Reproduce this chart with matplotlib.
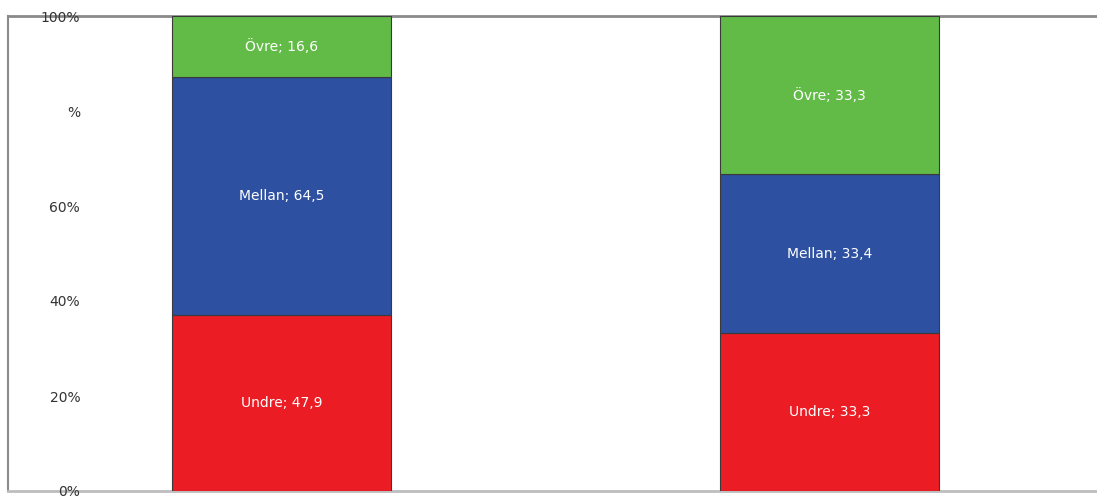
import matplotlib
matplotlib.use("Agg")
import matplotlib.pyplot as plt
import numpy as np

# Data
groups = ["A", "B"]
series = ["Undre", "Mellan", "Övre"]
undre = [47.9, 33.3]
mellan = [64.5, 33.4]
ovre = [16.6, 33.3]
colors = ["#EC1C24", "#2D50A0", "#62BB47"]
ytick_vals = [0, 20, 40, 60, 80, 100]
ytick_labels = ["0%", "20%", "40%", "60%", "%", "100%"]

W, H = 1097, 501
fig = plt.figure(figsize=(W / 100, H / 100), dpi=100)
ax = fig.add_axes([8 / W, 10 / H, (1103 - 8) / W, 475 / H])

values = np.array([undre, mellan, ovre])
totals = values.sum(axis=0)
shares = values / totals * 100

x = np.arange(len(groups))
bottom = np.zeros(len(groups))
for name, vals, sh, col in zip(series, values, shares, colors):
    ax.bar(x, sh, bottom=bottom, width=0.4, color=col,
           edgecolor="#3a3a3a", linewidth=0.8, zorder=2)
    for xi, v, s, b in zip(x, vals, sh, bottom):
        ax.text(xi, b + s / 2, f"{name}; {v:.1f}".replace(".", ","),
                ha="center", va="center", color="white", fontsize=10,
                family="DejaVu Sans", zorder=3)
    bottom += sh

ax.set_xlim(-0.5, 1.5)
ax.set_ylim(0, 100)
ax.set_xticks([])
ax.set_yticks(ytick_vals)
ax.set_yticklabels(ytick_labels, family="DejaVu Sans", fontsize=10,
                   color="#333333")
ax.tick_params(axis="y", length=0, pad=-52)

for side in ["left", "top", "bottom"]:
    ax.spines[side].set_color("#8a8a8a")
ax.spines["top"].set_linewidth(2)
ax.spines["bottom"].set_color("#bdbdbd")
ax.spines["bottom"].set_linewidth(2)
ax.spines["left"].set_linewidth(1.5)
ax.spines["right"].set_visible(False)
for s in ax.spines.values():
    s.set_zorder(1)

fig.savefig("out.png", dpi=100, facecolor="white")
